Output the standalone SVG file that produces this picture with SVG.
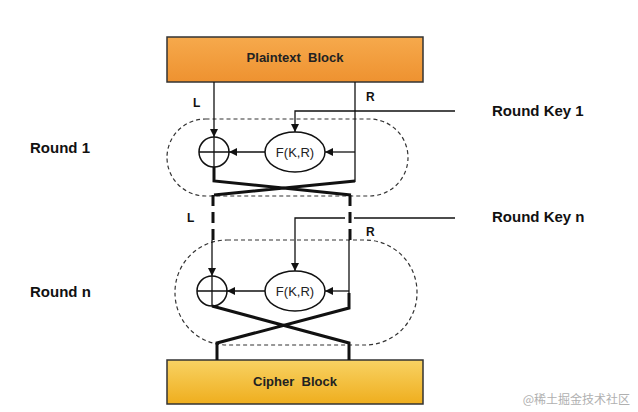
<svg xmlns="http://www.w3.org/2000/svg" width="638" height="412" viewBox="0 0 638 412">
<defs>
<linearGradient id="gOrange" x1="0" y1="0" x2="0" y2="1"><stop offset="0" stop-color="#F6A94C"/><stop offset="1" stop-color="#EE9230"/></linearGradient>
<linearGradient id="gGold" x1="0" y1="0" x2="0" y2="1"><stop offset="0" stop-color="#F8D263"/><stop offset="1" stop-color="#EFAE1E"/></linearGradient>
<marker id="arr" viewBox="0 0 10 10" refX="10" refY="5" markerWidth="8" markerHeight="8" markerUnits="userSpaceOnUse" orient="auto"><path d="M0,0 L10,5 L0,10 z" fill="#111"/></marker>
</defs>
<style>
.blk{stroke:#333;stroke-width:1.5}
.bt{font-family:"Liberation Sans",Arial,sans-serif;font-weight:bold;font-size:13px;fill:#222;text-anchor:middle;white-space:pre}
.lab{font-family:"Liberation Sans",Arial,sans-serif;font-weight:bold;font-size:15px;fill:#111}
.sm{font-family:"Liberation Sans",Arial,sans-serif;font-weight:bold;font-size:12px;fill:#111}
.fn{font-family:"Liberation Sans",Arial,sans-serif;font-size:13px;fill:#222;text-anchor:middle}
.round{fill:none;stroke:#333;stroke-width:1.2;stroke-dasharray:4,3}
.thin{fill:none;stroke:#111;stroke-width:1.3}
.thick{fill:none;stroke:#111;stroke-width:3}
.dash{fill:none;stroke:#111;stroke-width:3;stroke-dasharray:11,6}
.node{fill:#fff;stroke:#111;stroke-width:1.5}
</style>
<rect width="638" height="412" fill="#fff"/>
<g id="plaintext"><rect class="blk" x="167" y="37" width="256" height="45" fill="url(#gOrange)"/><text class="bt" x="295" y="62" xml:space="preserve">Plaintext  Block</text></g>
<g id="cipher"><rect class="blk" x="167" y="360" width="256" height="44" fill="url(#gGold)"/><text class="bt" x="295" y="386" xml:space="preserve">Cipher  Block</text></g>
<g id="round1"><rect class="round" x="167" y="119" width="241" height="77" rx="38.5" ry="38.5"/><text class="lab" x="30" y="153">Round 1</text></g>
<g id="roundn"><rect class="round" x="175" y="240" width="242" height="105" rx="52" ry="52"/><text class="lab" x="30" y="297">Round n</text></g>
<g id="xor1"><circle class="node" cx="214" cy="152" r="15"/><path class="thin" d="M199,152 H229 M214,137 V167"/></g>
<g id="f1"><ellipse class="node" cx="295" cy="152" rx="30" ry="20"/><text class="fn" x="295" y="157">F(K,R)</text></g>
<g id="xorn"><circle class="node" cx="212" cy="291" r="15"/><path class="thin" d="M197,291 H227 M212,276 V306"/></g>
<g id="fn"><ellipse class="node" cx="295" cy="291" rx="30" ry="20"/><text class="fn" x="295" y="296">F(K,R)</text></g>
<g id="key1"><text class="lab" x="492" y="116">Round Key 1</text></g>
<g id="keyn"><text class="lab" x="492" y="222">Round Key n</text></g>
<g id="labels">
<text class="sm" x="193" y="107">L</text><text class="sm" x="366" y="101">R</text>
<text class="sm" x="187" y="222">L</text><text class="sm" x="366" y="236">R</text>
</g>
<g id="connectors">
<path class="thin" d="M214,82 V137" marker-end="url(#arr)"/>
<path class="thin" d="M355,82 V182"/>
<path class="thin" d="M355,152 H325" marker-end="url(#arr)"/>
<path class="thin" d="M265,152 H229" marker-end="url(#arr)"/>
<path class="thin" d="M455,111 H295 V132" marker-end="url(#arr)"/>
<path class="thick" d="M214,167 V181 L351,195 M355,181 L214,195"/>
<path class="dash" d="M213,195 V240 M350,195 V240"/>
<path class="thin" d="M212,240 V276" marker-end="url(#arr)"/>
<path class="thin" d="M349,240 V306"/>
<path class="thin" d="M349,291 H325" marker-end="url(#arr)"/>
<path class="thin" d="M265,291 H227" marker-end="url(#arr)"/>
<path class="thin" d="M345,218 H295 V271" marker-end="url(#arr)"/>
<path class="thin" d="M354,218 H455"/>
<path class="thick" d="M212,306 L349,343 V360 M349,293 V308 L217,343 V360"/>
</g>
<text x="630" y="404" font-family="'Noto Sans CJK SC',sans-serif" font-size="12" fill="#b0b0b0" text-anchor="end">@稀土掘金技术社区</text>
</svg>
